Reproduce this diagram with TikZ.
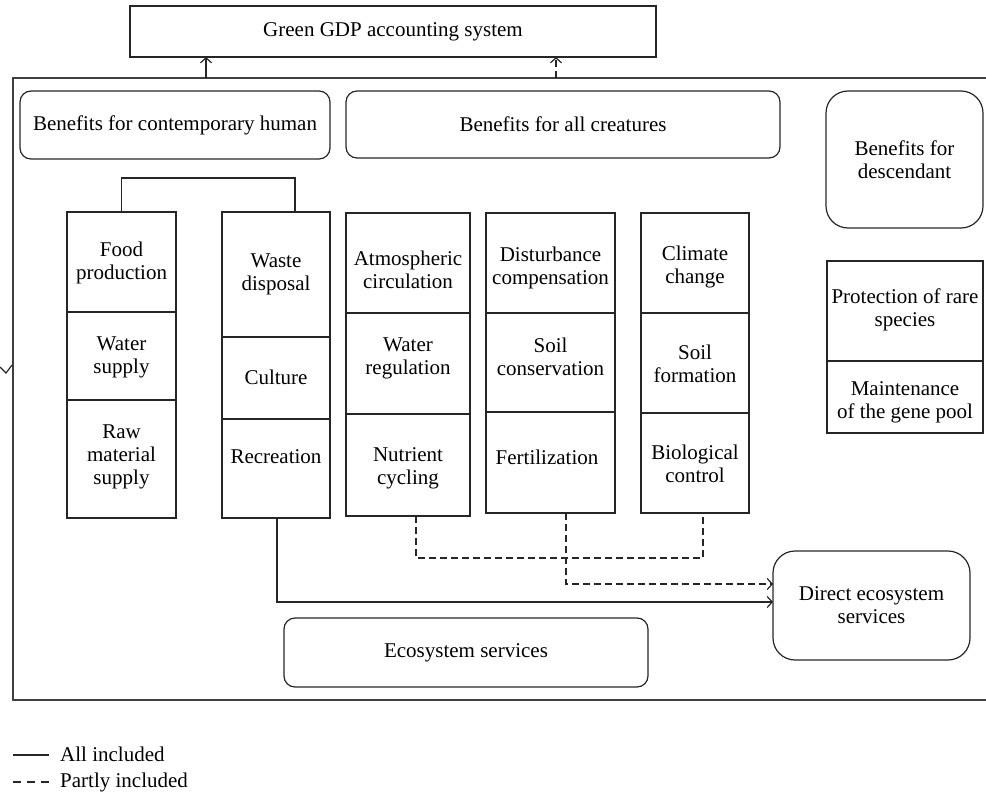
\documentclass[tikz,border=0pt]{standalone}
\usepackage{fontspec}
\setmainfont{Liberation Serif}
\usetikzlibrary{arrows.meta}
\tikzset{
  ln/.style={line width=1.2pt, draw=black!85},
  cellbox/.style={draw=black!85, line width=1.2pt, rectangle, inner sep=0pt, outer sep=0pt},
  rbox/.style={cellbox, rounded corners=11pt, align=center, font=\fontsize{21pt}{23pt}\selectfont},
  lbl/.style={align=center, inner sep=0pt, font=\fontsize{21pt}{23pt}\selectfont},
  arr/.style={-{Straight Barb[length=5pt,width=11pt]}},
  dsh/.style={dash pattern=on 7pt off 4pt},
  framel/.style={line width=1.6pt, draw=black!75},
}
\begin{document}
\begin{tikzpicture}[x=1pt,y=-1pt]
\useasboundingbox (0,0) rectangle (986,792);
% top box
\node[cellbox, minimum width=526pt, minimum height=51pt, font=\fontsize{21pt}{23pt}\selectfont] (gdp) at (393,31.5) {Green GDP accounting system};
% frame
\coordinate (ftr) at (986,78);
\coordinate (ftl) at (13,78);
\coordinate (fbl) at (13,700);
\coordinate (fbr) at (986,700);
\draw[framel] (ftr) -- (ftl) -- (fbl) -- (fbr);
\coordinate (vl) at (0,367);
\coordinate (vm) at (6,373);
\coordinate (vr) at (12,365);
\draw[ln] (vl) -- (vm) -- (vr);
% up arrows
\coordinate (u1) at (206,78);
\coordinate (u2) at (556,78);
\draw[ln,arr] (u1) -- (gdp.south -| u1);
\draw[ln,arr,dsh] (u2) -- (gdp.south -| u2);
% benefit boxes
\node[rbox, minimum width=310pt, minimum height=68pt] (bch) at (175,125) {Benefits for contemporary human};
\node[rbox, minimum width=434pt, minimum height=67pt] (bac) at (563,124.5) {Benefits for all creatures};
\node[rbox, rounded corners=22pt, minimum width=157pt, minimum height=137pt] (bd) at (904.5,159.5) {Benefits for\\descendant};
% food column
\node[cellbox, minimum width=109pt, minimum height=100pt] (f1) at (121.5,262) {};
\node[cellbox, minimum width=109pt, minimum height=88pt] (f2) at (121.5,356) {};
\node[cellbox, minimum width=109pt, minimum height=118pt] (f3) at (121.5,459) {};
\node[lbl] (tf1) at (121.5,263) {Food\\production};
\node[lbl] (tf2) at (121.5,357) {Water\\supply};
\node[lbl] (tf3) at (121.5,457) {Raw\\material\\supply};
% waste column
\node[cellbox, minimum width=108pt, minimum height=125pt] (w1) at (276,274.5) {};
\node[cellbox, minimum width=108pt, minimum height=82pt] (w2) at (276,378) {};
\node[cellbox, minimum width=108pt, minimum height=99pt] (w3) at (276,468.5) {};
\node[lbl] (tw1) at (276,274) {Waste\\disposal};
\node[lbl] (tw2) at (276,377) {Culture};
\node[lbl] (tw3) at (276,457) {Recreation};
% atmospheric column
\node[cellbox, minimum width=124pt, minimum height=100pt] (a1) at (408,263) {};
\node[cellbox, minimum width=124pt, minimum height=101pt] (a2) at (408,363.5) {};
\node[cellbox, minimum width=124pt, minimum height=102pt] (a3) at (408,465) {};
\node[lbl] (ta1) at (408,270) {Atmospheric\\circulation};
\node[lbl] (ta2) at (408,358) {Water\\regulation};
\node[lbl] (ta3) at (408,468) {Nutrient\\cycling};
% disturbance column
\node[cellbox, minimum width=129pt, minimum height=100pt] (d1) at (550.5,263) {};
\node[cellbox, minimum width=129pt, minimum height=99pt] (d2) at (550.5,362.5) {};
\node[cellbox, minimum width=129pt, minimum height=101pt] (d3) at (550.5,462.5) {};
\node[lbl] (td1) at (550.5,268) {Disturbance\\compensation};
\node[lbl] (td2) at (550.5,357) {Soil\\conservation};
\node[lbl] (td3) at (547,457) {Fertilization};
% climate column
\node[cellbox, minimum width=108pt, minimum height=100pt] (c1) at (695,263) {};
\node[cellbox, minimum width=108pt, minimum height=100pt] (c2) at (695,363) {};
\node[cellbox, minimum width=108pt, minimum height=100pt] (c3) at (695,463) {};
\node[lbl] (tc1) at (695,267) {Climate\\change};
\node[lbl] (tc2) at (695,364) {Soil\\formation};
\node[lbl] (tc3) at (695,464) {Biological\\control};
% protection column
\node[cellbox, minimum width=156pt, minimum height=100pt] (p1) at (905,311) {};
\node[cellbox, minimum width=156pt, minimum height=72pt] (p2) at (905,397) {};
\node[lbl] (tp1) at (905,310) {Protection of rare\\species};
\node[lbl] (tp2) at (905,402) {Maintenance\\of the gene pool};
% bottom boxes
\node[rbox, rounded corners=22pt, minimum width=197pt, minimum height=109pt] (dir) at (871.5,605.5) {Direct ecosystem\\services};
\node[rbox, minimum width=364pt, minimum height=69pt] (es) at (466,652.5) {Ecosystem services};
% bracket
\coordinate (ws) at (295,178);
\draw[ln] (f1.north) |- (ws) -- (ws |- w1.north);
% solid connector
\coordinate (rs) at (277,602);
\draw[ln,arr] (w3.south -| rs) -- (rs) -- (rs -| dir.west);
% dashed connectors
\coordinate (dh1) at (416,558);
\coordinate (dh2) at (703,558);
\coordinate (fa) at (566,584);
\draw[ln,dsh] (a3.south -| dh1) -- (dh1) -- (dh2) -- (c3.south -| dh2);
\draw[ln,dsh,arr] (d3.south -| fa) -- (fa) -- (fa -| dir.west);
% legend
\coordinate (l1a) at (13,755);
\coordinate (l1b) at (49,755);
\coordinate (l2a) at (13,782);
\coordinate (l2b) at (50,782);
\draw[ln] (l1a) -- (l1b);
\draw[ln,dash pattern=on 8pt off 6pt] (l2a) -- (l2b);
\node[lbl, anchor=base west] (lg1) at (60,761) {All included};
\node[lbl, anchor=base west] (lg2) at (60,787) {Partly included};
\end{tikzpicture}
\end{document}
